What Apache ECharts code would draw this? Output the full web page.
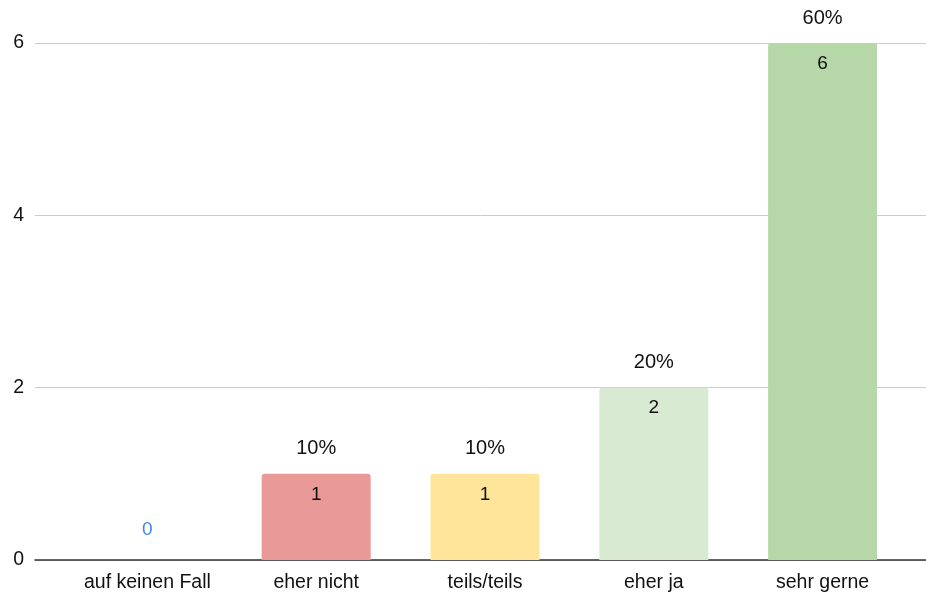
<!DOCTYPE html>
<html>
<head>
<meta charset="utf-8">
<script src="https://cdn.jsdelivr.net/npm/echarts@6/dist/echarts.min.js"></script>
<style>
  html, body { margin: 0; padding: 0; background: #fff; }
  #chart { width: 926px; height: 593px; }
</style>
</head>
<body>
<div id="chart"></div>
<script>
const categories = ['auf keinen Fall', 'eher nicht', 'teils/teils', 'eher ja', 'sehr gerne'];
const counts = [0, 1, 1, 2, 6];
const percentLabels = ['', '10%', '10%', '20%', '60%'];
const barColors = ['#4285f4', '#ea9999', '#ffe599', '#d9ead3', '#b6d7a8'];
const yTicks = [0, 2, 4, 6];

const font = 'Liberation Sans, Arial, sans-serif';
const textColor = '#111';
const chart = echarts.init(document.getElementById('chart'));

const countData = counts.map(function (v, i) {
  const item = { value: v, itemStyle: { color: barColors[i] } };
  if (v === 0) {
    item.label = { position: 'top', distance: 21, color: '#4285f4' };
  }
  return item;
});

chart.setOption({
  animation: false,
  grid: [
    { left: 63, right: 19, top: 43, bottom: 33 },
    { left: 35, right: 0, top: 43, bottom: 33 }
  ],
  xAxis: [
    {
      type: 'category',
      gridIndex: 0,
      data: categories,
      axisLine: { show: false },
      axisTick: { show: false },
      axisLabel: { color: textColor, fontSize: 19.5, fontFamily: font, margin: 13 }
    },
    {
      type: 'value',
      gridIndex: 1,
      min: 0,
      max: 1,
      axisLine: { show: true, onZero: false, lineStyle: { color: '#333', width: 1.5 } },
      axisTick: { show: false },
      axisLabel: { show: false },
      splitLine: { show: false }
    }
  ],
  yAxis: [
    {
      type: 'value',
      gridIndex: 0,
      min: yTicks[0],
      max: yTicks[yTicks.length - 1],
      interval: 2,
      axisLabel: { show: false },
      splitLine: { show: false }
    },
    {
      type: 'value',
      gridIndex: 1,
      min: yTicks[0],
      max: yTicks[yTicks.length - 1],
      interval: 2,
      axisLine: { show: false },
      axisTick: { show: false },
      axisLabel: { color: textColor, fontSize: 19.5, fontFamily: font, margin: 11, padding: [3, 0, 0, 0] },
      splitLine: { lineStyle: { color: '#cccccc', width: 1 } }
    }
  ],
  series: [
    {
      type: 'bar',
      xAxisIndex: 0,
      yAxisIndex: 0,
      data: countData,
      barWidth: 109,
      itemStyle: { borderRadius: [3, 3, 0, 0] },
      label: {
        show: true,
        position: 'insideTop',
        distance: 11,
        color: textColor,
        fontSize: 19,
        fontFamily: font
      },
      z: 3
    },
    {
      type: 'bar',
      xAxisIndex: 0,
      yAxisIndex: 0,
      data: counts,
      barWidth: 109,
      barGap: '-100%',
      itemStyle: { color: 'transparent' },
      label: {
        show: true,
        position: 'top',
        distance: 15,
        color: textColor,
        fontSize: 20,
        fontFamily: font,
        formatter: function (p) { return percentLabels[p.dataIndex]; }
      },
      z: 4
    }
  ]
});
</script>
</body>
</html>
